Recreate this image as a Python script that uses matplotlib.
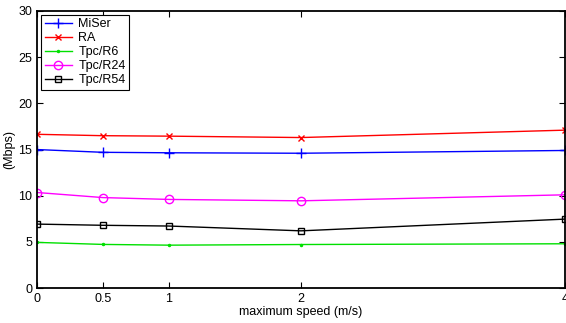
import matplotlib.pyplot as plt

plt.rcParams['font.family'] = ['Liberation Sans', 'DejaVu Sans']

# vitesse maximale (m/s) et débit (Mbps) par schéma
speed = [0, 0.5, 1, 2, 4]
miser = [15.0, 14.7, 14.65, 14.6, 14.9]
ra = [16.65, 16.5, 16.45, 16.3, 17.1]
tpc_r6 = [4.95, 4.73, 4.65, 4.72, 4.8]
tpc_r24 = [10.35, 9.8, 9.6, 9.45, 10.1]
tpc_r54 = [6.93, 6.8, 6.72, 6.2, 7.47]

fig = plt.figure(figsize=(5.66, 3.23), dpi=100)
ax = fig.add_axes([0.0654, 0.108, 0.933, 0.858])

ax.plot(speed, miser, color='blue', marker='+', ms=7, lw=1, label='MiSer')
ax.plot(speed, ra, color='red', marker='x', ms=4.5, lw=1, label='RA')
ax.plot(speed, tpc_r6, color='#00e000', marker='.', ms=3, lw=1, label='Tpc/R6')
ax.plot(speed, tpc_r24, color='magenta', marker='o', ms=6, mfc='none', lw=1, label='Tpc/R24')
ax.plot(speed, tpc_r54, color='black', marker='s', ms=5, mfc='none', lw=1, label='Tpc/R54')

ax.set_xlim(0, 4)
ax.set_ylim(0, 30)
ax.set_xticks(speed)
ax.set_xticklabels(['0', '0.5', '1', '2', '4'])
ax.set_yticks([0, 5, 10, 15, 20, 25, 30])
ax.tick_params(direction='in', top=True, right=True, labelsize=9, length=4, width=0.8)
for s in ax.spines.values():
    s.set_linewidth(1.3)

ax.set_xlabel('maximum speed (m/s)', fontsize=9, labelpad=1)
ax.set_ylabel('(Mbps)', fontsize=9, labelpad=2)

leg = ax.legend(loc='upper left', fontsize=9, fancybox=False, framealpha=1,
                edgecolor='black', borderaxespad=0.3, handlelength=2.2,
                labelspacing=0.15, borderpad=0.3, handletextpad=0.5)
leg.get_frame().set_linewidth(0.8)

fig.savefig('out.png', dpi=100)
